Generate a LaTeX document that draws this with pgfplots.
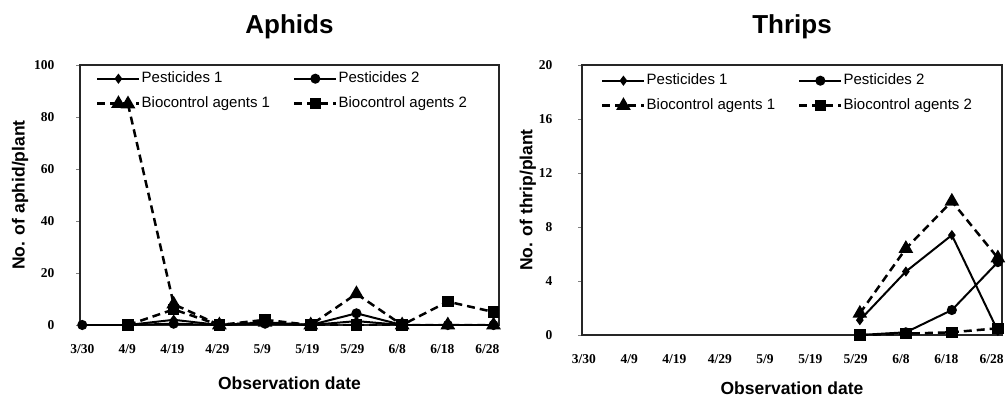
\documentclass[border=0pt]{standalone}
\usepackage{fontspec}
\setmainfont{Liberation Sans}
\newfontfamily\tickserif{Liberation Serif}
\usepackage{pgfplots}
\pgfplotsset{compat=1.18}

\pgfplotsset{
  pest/.style={
    scale only axis,
    axis line style={line width=1.5pt, black!85},
    xmin=-0.05, xmax=9.12,
    xtick={0,0.985,1.97,2.955,3.94,4.925,5.91,6.895,7.88,8.865},
    xticklabels={3/30,4/9,4/19,4/29,5/9,5/19,5/29,6/8,6/18,6/28},
    major x tick style={draw=none},
    ytick pos=left,
    tick align=outside,
    major tick length=4pt,
    /pgf/number format/assume math mode=true,
    ticklabel style={font=\tickserif\bfseries\fontsize{13.5}{13.5}\selectfont},
    xticklabel style={yshift=-12pt},
    label style={font=\bfseries\fontsize{17.5}{17.5}\selectfont},
    title style={font=\bfseries\fontsize{26}{26}\selectfont, at={(0.5,1)}, anchor=center, yshift=32pt},
    xlabel={Observation date},
    legend columns=2,
    legend cell align=left,
    legend style={draw=none, fill=none, at={(axis description cs:0,1)}, anchor=north west,
      font=\fontsize{15}{15}\selectfont, inner sep=0pt,
      nodes={inner sep=1pt, text height=10pt, text depth=3pt},
      row sep=10pt,
      /tikz/every even column/.append style={column sep=22pt}},
    legend image code/.code={
      \draw[mark repeat=2, mark phase=2] plot coordinates {(0pt,0pt) (21pt,0pt) (42pt,0pt)};},
  },
  p1/.style={black, line width=2pt, mark=diamond*, mark size=3.5pt, mark options={solid}},
  p2/.style={black, line width=2pt, mark=*, mark size=4pt, mark options={solid}},
  b1/.style={black, line width=2.5pt, dash pattern=on 8pt off 5pt, mark=triangle*, mark size=6pt, mark options={solid}},
  b2/.style={black, line width=2.5pt, dash pattern=on 8pt off 5pt, mark=square*, mark size=4.5pt, mark options={solid}},
}

\begin{document}
\begin{tikzpicture}[x=1pt, y=1pt]
\path[use as bounding box] (0,0) rectangle (1006,400);

% Aphids
\begin{axis}[pest,
  at={(80pt,75pt)}, anchor=south west,
  width=419pt, height=260pt,
  ymin=0, ymax=100, ytick={0,20,40,60,80,100},
  title={Aphids},
  ylabel={No. of aphid/plant},
  ylabel style={at={(axis description cs:-0.143,0.5)}, anchor=center},
  xlabel style={at={(axis description cs:0.5,0)}, anchor=center, yshift=-58pt},
  yticklabel style={xshift=-18pt},
  legend style={xshift=16pt, yshift=-6pt},
]
\addplot[p1] coordinates {(0,0) (1,0) (2,2) (3,0) (4,1) (5,0) (6,1.5) (7,0) (8,0) (9,0)};
\addlegendentry{Pesticides 1}
\addplot[p2] coordinates {(0,0) (1,0) (2,0.5) (3,0) (4,0.5) (5,0) (6,4.5) (7,0) (8,0) (9,0)};
\addlegendentry{Pesticides 2}
\addplot[b1] coordinates {(1,85) (2,8) (3,0) (4,1) (5,0) (6,12) (7,0) (8,0) (9,0)};
\addlegendentry{Biocontrol agents 1}
\addplot[b2] coordinates {(1,0) (2,6) (3,0) (4,2) (5,0) (6,0) (7,0) (8,9) (9,5)};
\addlegendentry{Biocontrol agents 2}
\end{axis}

% Thrips
\begin{axis}[pest,
  at={(582pt,65pt)}, anchor=south west,
  width=420pt, height=270pt,
  ymin=0, ymax=20, ytick={0,4,8,12,16,20},
  xmin=-0.04, xmax=9.09,
  title={Thrips},
  ylabel={No. of thrip/plant},
  ylabel style={at={(axis description cs:-0.129,0.5)}, anchor=center},
  xlabel style={at={(axis description cs:0.5,0)}, anchor=center, yshift=-53pt},
  yticklabel style={xshift=-22pt},
  legend style={xshift=19pt, yshift=-8pt},
]
\addplot[p1] coordinates {(6,1.1) (7,4.7) (8,7.4) (9,0.3)};
\addlegendentry{Pesticides 1}
\addplot[p2] coordinates {(6,0) (7,0.2) (8,1.85) (9,5.4)};
\addlegendentry{Pesticides 2}
\addplot[b1] coordinates {(6,1.6) (7,6.4) (8,9.9) (9,5.7)};
\addlegendentry{Biocontrol agents 1}
\addplot[b2] coordinates {(6,0) (7,0.1) (8,0.2) (9,0.5)};
\addlegendentry{Biocontrol agents 2}
\end{axis}
\end{tikzpicture}
\end{document}
